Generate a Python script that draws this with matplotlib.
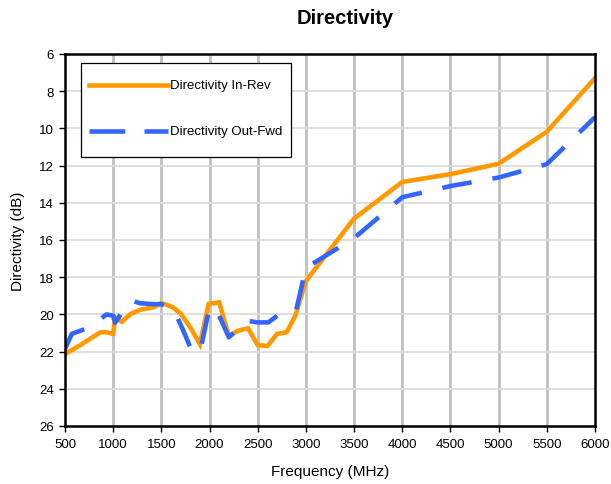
import numpy as np
import matplotlib.pyplot as plt
from matplotlib.patches import Rectangle
from matplotlib.lines import Line2D

plt.rcParams['font.family'] = ['Liberation Sans', 'DejaVu Sans']

# Directivity In-Rev (orange)
freq_in = [500, 650, 800, 870, 930, 1000, 1020, 1090, 1180, 1280, 1420, 1500, 1620,
           1700, 1800, 1900, 1990, 2100, 2200, 2300, 2400, 2500, 2600, 2700, 2800,
           2890, 3000, 3500, 4000, 4500, 5000, 5500, 6000]
dir_in = [22.13, 21.68, 21.18, 20.96, 20.96, 21.05, 20.16, 20.4, 19.98, 19.75, 19.62,
          19.38, 19.62, 19.95, 20.7, 21.6, 19.44, 19.35, 21.14, 20.87, 20.75, 21.65,
          21.7, 21.05, 20.96, 20.07, 18.2, 14.85, 12.88, 12.46, 11.9, 10.18, 7.3]

# Directivity Out-Fwd (blue)
freq_out = [500, 570, 700, 810, 880, 930, 1000, 1020, 1090, 1190, 1280, 1420, 1500,
            1630, 1730, 1800, 1900, 2000, 2100, 2200, 2280, 2380, 2500, 2610, 2760,
            2900, 3000, 3500, 4000, 4500, 5000, 5500, 6000]
dir_out = [21.86, 21.05, 20.8, 20.34, 20.2, 20.0, 20.07, 20.45, 19.9, 19.26, 19.4,
           19.45, 19.45, 19.75, 20.9, 21.77, 22.05, 19.6, 20.07, 21.23, 20.87, 20.34,
           20.43, 20.43, 19.85, 19.75, 17.5, 15.9, 13.7, 13.1, 12.64, 11.92, 9.4]

labels = ['Directivity In-Rev', 'Directivity Out-Fwd']
orange = '#FF9900'
blue = '#3366FF'

fig = plt.figure(figsize=(6.11, 4.85), dpi=100)
ax = fig.add_axes([65/611, 1-427/485, 530/611, 372/485])

ax.set_xlim(500, 6000)
ax.set_ylim(26, 6)
ax.set_xticks(np.arange(500, 6001, 500))
ax.set_yticks(np.arange(6, 27, 2))

# grid: vertical darker/thicker, horizontal light
for x in np.arange(1000, 6000, 500):
    ax.axvline(x, color='#c0c0c0', lw=2.0, zorder=1)
for y in np.arange(8, 26, 2):
    ax.axhline(y, color='#dcdcdc', lw=1.3, zorder=1)

ax.plot(freq_in, dir_in, color=orange, lw=3.3, solid_joinstyle='miter', zorder=3)
ax.plot(freq_out, dir_out, color=blue, lw=3.3, dashes=(6.5, 4.6), zorder=4)

for s in ax.spines.values():
    s.set_linewidth(1.8)
    s.set_color('black')
    s.set_zorder(5)

ax.tick_params(axis='both', direction='out', length=4, width=1, labelsize=9.5,
               pad=4)
ax.tick_params(axis='x', pad=5)

ax.set_xlabel('Frequency (MHz)', fontsize=11, labelpad=10)
ax.set_ylabel('Directivity (dB)', fontsize=11, labelpad=10)
fig.text(345/611, 1-19/485, 'Directivity', fontsize=14.5, fontweight='bold',
         ha='center', va='center')

# legend box
ax.add_patch(Rectangle((0.0302, 0.724), 0.3962, 0.251, transform=ax.transAxes,
                       facecolor='white', edgecolor='black', lw=0.9, zorder=6))
ax.add_line(Line2D([0.0453, 0.1943], [0.9167, 0.9167], transform=ax.transAxes,
                   color=orange, lw=3.3, zorder=7))
ax.add_line(Line2D([0.0453, 0.1943], [0.7938, 0.7938], transform=ax.transAxes,
                   color=blue, lw=3.3, dashes=(7.8, 4.2), zorder=7))
ax.text(0.198, 0.9167, labels[0], transform=ax.transAxes, fontsize=9.5,
        va='center', ha='left', zorder=8)
ax.text(0.198, 0.7938, labels[1], transform=ax.transAxes, fontsize=9.5,
        va='center', ha='left', zorder=8)

fig.savefig('out.png', dpi=100)
